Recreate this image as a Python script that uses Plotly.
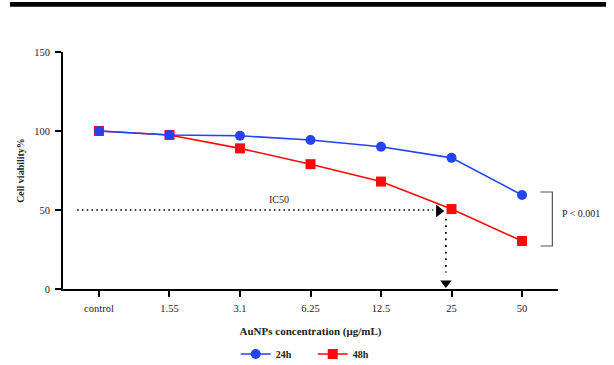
import plotly.graph_objects as go

categories = ["control", "1.55", "3.1", "6.25", "12.5", "25", "50"]
viability_24h = [100, 97.5, 97, 94.3, 90, 83, 59.5]
viability_48h = [100, 97.5, 89, 79, 68, 50.6, 30.4]
y_ticks = [0, 50, 100, 150]
ic50_value = 50
ic50_index = 4.92

FONT = "Liberation Serif"
BLUE = "#2343F5"
RED = "#FA0A0A"

x_idx = list(range(len(categories)))

fig = go.Figure()
fig.add_trace(go.Scatter(
    x=x_idx, y=viability_48h, name="48h", mode="lines+markers",
    line=dict(color=RED, width=1.6),
    marker=dict(symbol="square", size=10, color=RED),
))
fig.add_trace(go.Scatter(
    x=x_idx, y=viability_24h, name="24h", mode="lines+markers",
    line=dict(color=BLUE, width=1.6),
    marker=dict(symbol="circle", size=10, color=BLUE),
))

# IC50 dotted guide lines
fig.add_shape(type="line", x0=-0.31, x1=4.74, y0=ic50_value, y1=ic50_value,
              line=dict(color="black", width=1.6, dash="1.6px,3.2px"))
fig.add_shape(type="line", x0=ic50_index, x1=ic50_index, y0=ic50_value - 5.5, y1=10.5,
              line=dict(color="black", width=1.8, dash="1.8px,4.8px"))
# arrow heads
fig.add_trace(go.Scatter(
    x=[4.82], y=[ic50_value - 0.6], mode="markers", showlegend=False, hoverinfo="skip",
    marker=dict(symbol="triangle-right", size=11, color="black"), cliponaxis=False,
))
fig.add_trace(go.Scatter(
    x=[ic50_index], y=[3.8], mode="markers", showlegend=False, hoverinfo="skip",
    marker=dict(symbol="triangle-down", size=10, color="black"), cliponaxis=False,
))
fig.add_annotation(x=2.55, y=56.5, text="IC50", showarrow=False,
                   font=dict(family=FONT, size=10, color="#222"))

# significance bracket
fig.add_shape(type="path", path="M 6.26 61.4 L 6.43 61.4 L 6.43 27.2 L 6.26 27.2",
              line=dict(color="#555", width=1.2))
fig.add_annotation(xref="paper", x=1.004, y=47.5, text="P < 0.001", showarrow=False,
                   xanchor="left", font=dict(family=FONT, size=10, color="#222"))

# top black bar
fig.add_shape(type="rect", xref="paper", yref="paper", x0=-0.107, x1=1.097,
              y0=1.191, y1=1.211, fillcolor="black", line=dict(width=0))

fig.update_layout(
    width=614, height=365,
    margin=dict(l=63, r=56, t=52, b=76, autoexpand=False),
    plot_bgcolor="white", paper_bgcolor="white",
    font=dict(family=FONT, size=10, color="#222"),
    showlegend=True,
    legend=dict(orientation="h", x=0.349, xanchor="left", y=-0.274, yanchor="middle",
                font=dict(family=FONT, size=10, color="#222", weight="bold"),
                traceorder="reversed", itemwidth=30, entrywidth=32),
    xaxis=dict(
        range=[-0.51, 6.51], tickmode="array", tickvals=x_idx, ticktext=categories,
        showline=True, linecolor="black", linewidth=2, ticks="outside", ticklen=6,
        tickwidth=2, tickcolor="black", showgrid=False, zeroline=False,
        ticklabelstandoff=2, automargin=False,
        tickfont=dict(family=FONT, size=10.5, color="#222"),
        title=dict(text="<b>AuNPs concentration (μg/mL)</b>", standoff=15,
                   font=dict(family=FONT, size=11, color="#222")),
    ),
    yaxis=dict(
        range=[0, 150], tickmode="array", tickvals=y_ticks,
        showline=True, linecolor="black", linewidth=2, ticks="outside", ticklen=6,
        tickwidth=2, tickcolor="black", showgrid=False, zeroline=False,
        ticklabelstandoff=3, automargin=False,
        tickfont=dict(family=FONT, size=10.5, color="#222"),
        title=dict(text="<b>Cell viability%</b>", standoff=8,
                   font=dict(family=FONT, size=10, color="#222")),
    ),
)

fig.write_html("out.html", config={"displayModeBar": False},
               post_script="document.body.style.margin='0';")
